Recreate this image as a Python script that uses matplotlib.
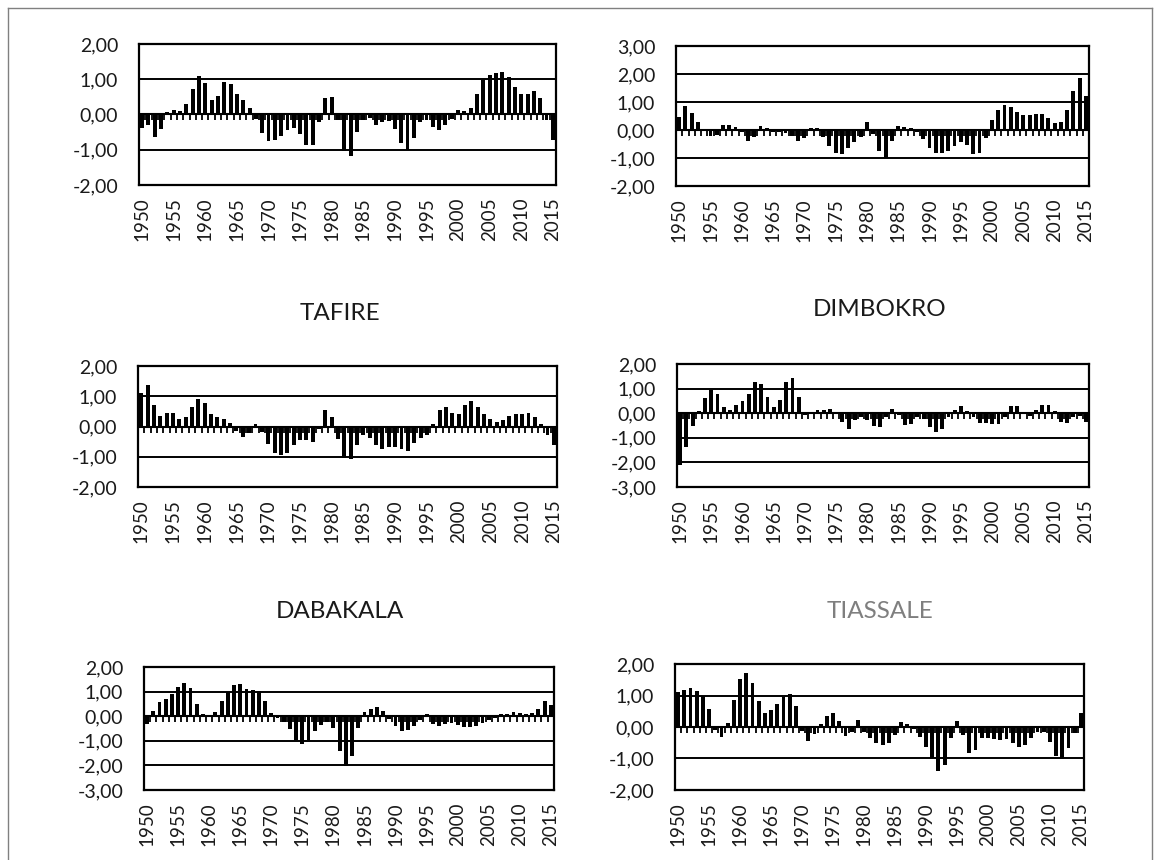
import numpy as np
import matplotlib
matplotlib.use("Agg")
import matplotlib.pyplot as plt
from matplotlib.lines import Line2D
from matplotlib.ticker import FuncFormatter

plt.rcParams['font.family'] = ['Lato', 'DejaVu Sans']

years = np.arange(1950, 2016)
year_ticks = np.arange(1950, 2016, 5)

# top-left station (title cut off in the source)
s1 = [-0.38, -0.3, -0.65, -0.4, 0.08, 0.13, 0.1, 0.29, 0.73, 1.1,
      0.88, 0.42, 0.52, 0.91, 0.85, 0.59, 0.4, 0.19, -0.14, -0.53,
      -0.76, -0.72, -0.6, -0.44, -0.38, -0.55, -0.88, -0.86, -0.22, 0.47,
      0.49, -0.17, -1.05, -1.17, -0.5, -0.15, -0.1, -0.3, -0.2, -0.18,
      -0.4, -0.82, -1.0, -0.68, -0.22, -0.15, -0.35, -0.45, -0.3, -0.12,
      0.12, 0.1, 0.19, 0.59, 0.97, 1.11, 1.18, 1.2, 1.05, 0.78,
      0.59, 0.59, 0.67, 0.47, -0.17, -0.72]

# top-right station
s2 = [0.48, 0.87, 0.62, 0.27, 0.05, -0.2, -0.18, 0.18, 0.18, 0.12,
      -0.08, -0.38, -0.24, 0.15, 0.07, -0.08, -0.08, -0.1, -0.2, -0.38,
      -0.29, 0.07, 0.07, -0.26, -0.56, -0.82, -0.86, -0.65, -0.42, -0.26,
      0.27, -0.15, -0.74, -1.0, -0.4, 0.15, 0.12, 0.06, -0.08, -0.32,
      -0.65, -0.82, -0.82, -0.74, -0.56, -0.42, -0.52, -0.86, -0.82, -0.29,
      0.36, 0.71, 0.9, 0.83, 0.65, 0.54, 0.54, 0.58, 0.58, 0.43,
      0.24, 0.27, 0.71, 1.4, 1.86, 1.2]

tafire = [1.11, 1.38, 0.7, 0.34, 0.46, 0.46, 0.26, 0.3, 0.64, 0.9,
          0.78, 0.4, 0.3, 0.26, 0.13, -0.15, -0.35, -0.2, 0.09, -0.17,
          -0.57, -0.86, -0.95, -0.88, -0.62, -0.43, -0.45, -0.5, -0.09, 0.53,
          0.33, -0.42, -1.05, -1.07, -0.62, -0.28, -0.38, -0.6, -0.73, -0.67,
          -0.67, -0.75, -0.82, -0.55, -0.37, -0.29, 0.08, 0.55, 0.65, 0.45,
          0.42, 0.7, 0.83, 0.65, 0.4, 0.25, 0.14, 0.22, 0.35, 0.4,
          0.43, 0.45, 0.32, 0.07, -0.29, -0.62]

dimbokro = [-2.1, -1.39, -0.5, 0.11, 0.61, 0.95, 0.79, 0.27, 0.15, 0.35,
            0.49, 0.79, 1.29, 1.2, 0.65, 0.27, 0.52, 1.25, 1.44, 0.65,
            -0.08, 0.05, 0.14, 0.14, 0.18, 0.07, -0.37, -0.64, -0.27, -0.16,
            -0.27, -0.52, -0.57, -0.16, 0.16, -0.07, -0.47, -0.43, -0.14, -0.25,
            -0.57, -0.77, -0.65, -0.16, 0.14, 0.3, 0.1, -0.16, -0.38, -0.4,
            -0.45, -0.45, -0.16, 0.3, 0.3, 0.07, -0.13, 0.14, 0.32, 0.32,
            0.1, -0.34, -0.4, -0.16, -0.13, -0.34]

dabakala = [-0.3, 0.23, 0.57, 0.7, 0.9, 1.19, 1.35, 1.15, 0.51, 0.09,
            0.03, 0.19, 0.61, 0.97, 1.27, 1.31, 1.11, 1.07, 1.01, 0.61,
            0.14, -0.07, -0.24, -0.54, -0.95, -1.15, -0.95, -0.61, -0.34, -0.24,
            -0.47, -1.42, -2.03, -1.6, -0.47, 0.19, 0.3, 0.36, 0.23, -0.11,
            -0.38, -0.61, -0.57, -0.38, -0.16, 0.1, -0.3, -0.41, -0.3, -0.27,
            -0.34, -0.43, -0.43, -0.38, -0.27, -0.16, -0.07, 0.09, 0.1, 0.16,
            0.14, 0.1, 0.14, 0.3, 0.61, 0.47]

tiassale = [1.1, 1.18, 1.23, 1.13, 0.97, 0.56, -0.1, -0.31, 0.13, 0.86,
            1.53, 1.73, 1.39, 0.81, 0.44, 0.53, 0.73, 0.94, 1.04, 0.66,
            -0.13, -0.45, -0.23, 0.09, 0.35, 0.46, 0.19, -0.28, -0.15, 0.22,
            -0.15, -0.36, -0.52, -0.57, -0.52, -0.26, 0.15, 0.09, -0.05, -0.31,
            -0.63, -0.98, -1.4, -1.21, -0.34, 0.19, -0.26, -0.84, -0.73, -0.36,
            -0.34, -0.38, -0.41, -0.38, -0.52, -0.63, -0.57, -0.36, -0.15, -0.17,
            -0.47, -0.91, -1.02, -0.68, -0.2, 0.46]

# (values, ymin, ymax, title, title colour, axes rect, title pos in px)
panels = [
    (s1, -2, 2, None, None, [0.1197, 0.7849, 0.3592, 0.1640], None),
    (s2, -2, 3, None, None, [0.5823, 0.7837, 0.3557, 0.1628], None),
    (tafire, -2, 2, "TAFIRE", "#1a1a1a", [0.1189, 0.4337, 0.3609, 0.1407], (340, 313)),
    (dimbokro, -3, 2, "DIMBOKRO", "#1a1a1a", [0.5831, 0.4337, 0.3549, 0.1430], (880, 310)),
    (dabakala, -3, 2, "DABAKALA", "#1a1a1a", [0.1240, 0.0814, 0.3531, 0.1430], (340, 612)),
    (tiassale, -2, 2, "TIASSALE", "#7f7f7f", [0.5814, 0.0814, 0.3523, 0.1465], (880, 612)),
]

W, H = 1161, 860
fig = plt.figure(figsize=(W / 100, H / 100), dpi=100)

fmt = FuncFormatter(lambda v, p: ("%.2f" % v).replace(".", ","))

for vals, lo, hi, title, tcol, rect, tpos in panels:
    ax = fig.add_axes(rect)
    ax.bar(years, vals, width=0.62, color="black", zorder=3)
    ax.set_xlim(years[0] - 0.5, years[-1] + 0.5)
    ax.set_ylim(lo, hi)
    ax.set_yticks(np.arange(lo, hi + 1))
    ax.yaxis.set_major_formatter(fmt)
    ax.grid(axis="y", color="black", lw=1.4, zorder=1)
    ax.set_axisbelow(True)
    # category axis crossing at zero, with Excel-like tick marks between bars
    ax.axhline(0, color="black", lw=1.5, zorder=2)
    ax.plot(years[:-1] + 0.5, np.zeros(len(years) - 1), linestyle="none",
            marker=3, markersize=4.5, mew=1.3, color="black", zorder=2)
    ax.set_xticks(year_ticks)
    ax.set_xticklabels([str(y) for y in year_ticks], rotation=90)
    ax.tick_params(axis="x", length=0, pad=9, labelsize=13.5, colors="#1a1a1a")
    ax.tick_params(axis="y", length=0, pad=15, labelsize=14, colors="#1a1a1a")
    for sp in ax.spines.values():
        sp.set_color("black")
        sp.set_linewidth(1.6)
    if title:
        fig.text(tpos[0] / W, 1 - tpos[1] / H, title, ha="center", va="center",
                 fontsize=17.5, color=tcol)

# outer frame of the source image (bottom edge is cropped there)
fig.add_artist(Line2D([8 / W, 8 / W], [0, 1 - 8 / H], color="#808080", lw=1))
fig.add_artist(Line2D([8 / W, 1152 / W], [1 - 8 / H, 1 - 8 / H], color="#808080", lw=1))
fig.add_artist(Line2D([1152 / W, 1152 / W], [0, 1 - 8 / H], color="#808080", lw=1))

fig.savefig("out.png", dpi=100)
